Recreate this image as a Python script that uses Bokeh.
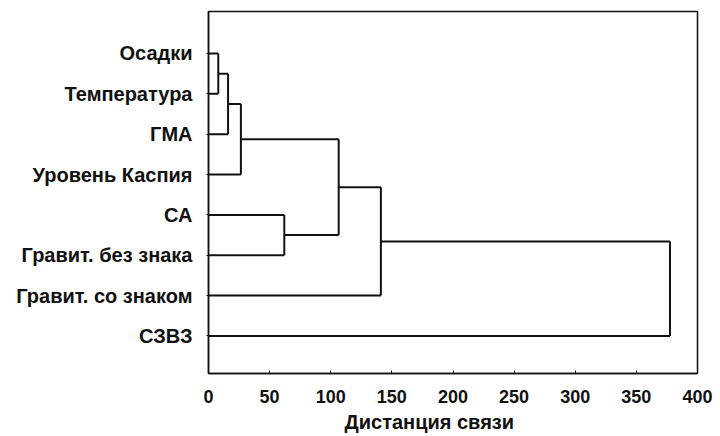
from bokeh.plotting import figure
from bokeh.models import Range1d, FixedTicker, Title
from bokeh.embed import file_html
from bokeh.resources import INLINE

# Leaves (top to bottom)
labels = ["Осадки", "Температура", "ГМА", "Уровень Каспия", "СА",
          "Гравит. без знака", "Гравит. со знаком", "СЗВЗ"]
# Linkage (scipy-like): leaves 0..7, new clusters numbered from 8
merge_left = [0, 8, 9, 4, 10, 12, 13]
merge_right = [1, 2, 3, 5, 11, 6, 7]
merge_dist = [8, 16, 26.5, 62, 106.5, 141, 377.5]
x_ticks = [0, 50, 100, 150, 200, 250, 300, 350, 400]
x_title = "Дистанция связи"

n = len(labels)
node_x = {i: 0.0 for i in range(n)}
node_y = {i: float(n - i) for i in range(n)}
xs, ys = [], []
for k, (a, b, d) in enumerate(zip(merge_left, merge_right, merge_dist)):
    for c in (a, b):
        xs.append([node_x[c], d]); ys.append([node_y[c], node_y[c]])
    xs.append([d, d]); ys.append([node_y[a], node_y[b]])
    node_x[n + k] = d
    node_y[n + k] = (node_y[a] + node_y[b]) / 2.0

p = figure(width=720, height=436, output_backend="svg", toolbar_location=None,
           x_range=Range1d(0, 400), y_range=Range1d(0.07, 9.04),
           min_border_left=208, min_border_right=23, min_border_top=11, min_border_bottom=62)
p.multi_line(xs, ys, line_color="#111111", line_width=2)

p.grid.visible = False
p.outline_line_color = "#111111"
p.outline_line_width = 1.5
p.background_fill_color = "white"
p.border_fill_color = "white"

font = "Liberation Sans"
xa = p.xaxis[0]
xa.ticker = FixedTicker(ticks=x_ticks)
xa.major_label_text_font = font
xa.major_label_text_font_style = "bold"
xa.major_label_text_font_size = "18px"
xa.major_label_text_color = "#111111"
xa.major_label_standoff = 16
xa.major_tick_in = 3
xa.major_tick_out = 0
xa.minor_tick_line_color = None
xa.axis_line_width = 1.5
xa.axis_line_color = "#111111"
xa.major_tick_line_color = "#111111"

t = Title(text=x_title, align="left", offset=136, text_font=font,
          text_font_style="bold", text_font_size="20px", text_color="#111111",
          standoff=7)
p.add_layout(t, "below")

ya = p.yaxis[0]
ya.ticker = FixedTicker(ticks=[float(n - i) for i in range(n)])
ya.major_label_overrides = {float(n - i): labels[i] for i in range(n)}
ya.major_label_text_font = font
ya.major_label_text_font_style = "bold"
ya.major_label_text_font_size = "20px"
ya.major_label_text_color = "#111111"
ya.major_label_standoff = 14
ya.major_tick_in = 0
ya.major_tick_out = 2
ya.minor_tick_line_color = None
ya.axis_line_width = 1.5
ya.axis_line_color = "#111111"
ya.major_tick_line_color = "#111111"

open("out.html", "w").write(file_html(p, INLINE))
